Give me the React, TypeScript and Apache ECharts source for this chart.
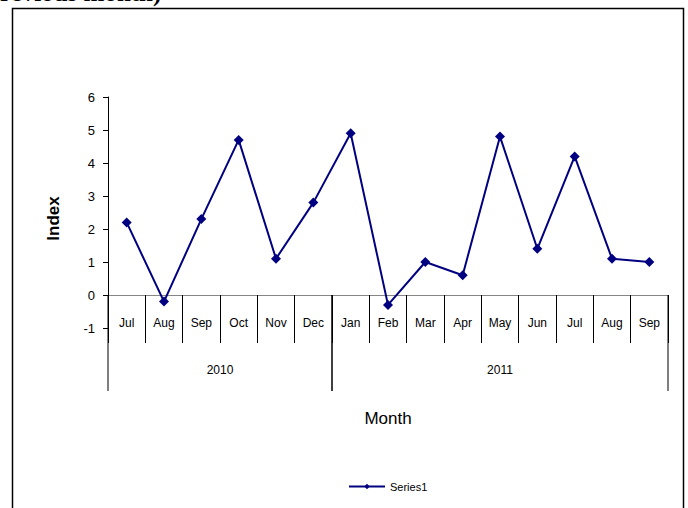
import React, { useEffect, useRef } from 'react';
import * as echarts from 'echarts';

const periods = ['Jul 2010', 'Aug 2010', 'Sep 2010', 'Oct 2010', 'Nov 2010', 'Dec 2010', 'Jan 2011', 'Feb 2011', 'Mar 2011', 'Apr 2011', 'May 2011', 'Jun 2011', 'Jul 2011', 'Aug 2011', 'Sep 2011'];
const series1 = [2.2, -0.2, 2.3, 4.7, 1.1, 2.8, 4.9, -0.3, 1.0, 0.6, 4.8, 1.4, 4.2, 1.1, 1.0];
const yearGroups: [number, number, string][] = [[0, 5, '2010'], [6, 14, '2011']];
const yMin = -1;
const yMax = 6;
const yStep = 1;

export default function App() {
  const ref = useRef<HTMLDivElement>(null);
  useEffect(() => {
    if (!ref.current) return;
    const chart = echarts.init(ref.current, null, { renderer: 'svg' });
    const font = 'Arial, "Liberation Sans", sans-serif';
    chart.setOption({
      animation: false,
      backgroundColor: '#fff',
      graphic: [
        {
          type: 'rect',
          shape: { x: 12.5, y: 8.5, width: 671, height: 520 },
          style: { fill: 'none', stroke: '#000', lineWidth: 1.5 },
          silent: true,
        },
        {
          type: 'text',
          x: 0,
          y: 5,
          style: {
            text: 'revious month)',
            font: 'bold 25px "Liberation Serif", serif',
            fill: '#000',
            verticalAlign: 'bottom',
          },
          silent: true,
        },
      ],
      legend: {
        data: ['Series1'],
        left: 343,
        top: 476,
        itemWidth: 36,
        itemHeight: 7,
        itemGap: 4,
        textStyle: { fontFamily: font, fontSize: 11, color: '#000' },
      },
      grid: { left: 108, right: 20, top: 97, bottom: 180 },
      xAxis: {
        type: 'category',
        data: periods,
        boundaryGap: true,
        name: 'Month',
        nameLocation: 'middle',
        nameGap: 82,
        nameTextStyle: { fontFamily: font, fontSize: 17, color: '#000' },
        axisLine: { onZero: true, lineStyle: { color: '#868686', width: 1 } },
        axisTick: { show: true, interval: 0, length: 48, lineStyle: { color: '#000' } },
        axisLabel: {
          interval: 0,
          margin: -11,
          fontFamily: font,
          fontSize: 12,
          color: '#000',
          formatter: (v: string) => v.split(' ')[0],
        },
        splitLine: { show: false },
      },
      yAxis: {
        type: 'value',
        min: yMin,
        max: yMax,
        interval: yStep,
        name: 'Index',
        nameLocation: 'middle',
        nameGap: 46,
        nameTextStyle: { fontFamily: font, fontSize: 17, fontWeight: 'bold', color: '#000', padding: [0, 0, 0, -12] },
        axisLine: { show: true, lineStyle: { color: '#000', width: 1 } },
        axisTick: { show: true, length: 5, lineStyle: { color: '#000' } },
        axisLabel: { margin: 13, fontFamily: font, fontSize: 13, color: '#000' },
        splitLine: { show: false },
      },
      series: [
        {
          name: 'Series1',
          type: 'line',
          data: series1,
          symbol: 'diamond',
          symbolSize: 10,
          lineStyle: { color: '#000080', width: 2 },
          itemStyle: { color: '#000080' },
          z: 3,
        },
        {
          type: 'custom',
          name: 'years',
          clip: false,
          silent: true,
          data: yearGroups,
          encode: { x: 0 },
          renderItem: (params: any, api: any) => {
            const s = api.value(0);
            const e = api.value(1);
            const label = yearGroups[params.dataIndex][2];
            const p0 = api.coord([s, 0]);
            const p1 = api.coord([e, 0]);
            const bw = api.size([1, 0])[0];
            const l = p0[0] - bw / 2;
            const r = p1[0] + bw / 2;
            const y0 = p0[1];
            const h = 96;
            return {
              type: 'group',
              children: [
                { type: 'line', shape: { x1: l, y1: y0, x2: l, y2: y0 + h }, style: { stroke: '#000', lineWidth: 1 } },
                { type: 'line', shape: { x1: r, y1: y0, x2: r, y2: y0 + h }, style: { stroke: '#000', lineWidth: 1 } },
                {
                  type: 'text',
                  x: (l + r) / 2,
                  y: y0 + 75,
                  style: { text: label, align: 'center', verticalAlign: 'middle', font: '12px ' + font, fill: '#000' },
                },
              ],
            };
          },
        },
      ],
    });
    return () => chart.dispose();
  }, []);
  return <div ref={ref} style={{ position: 'fixed', left: 0, top: 0, width: 688, height: 508 }} />;
}
